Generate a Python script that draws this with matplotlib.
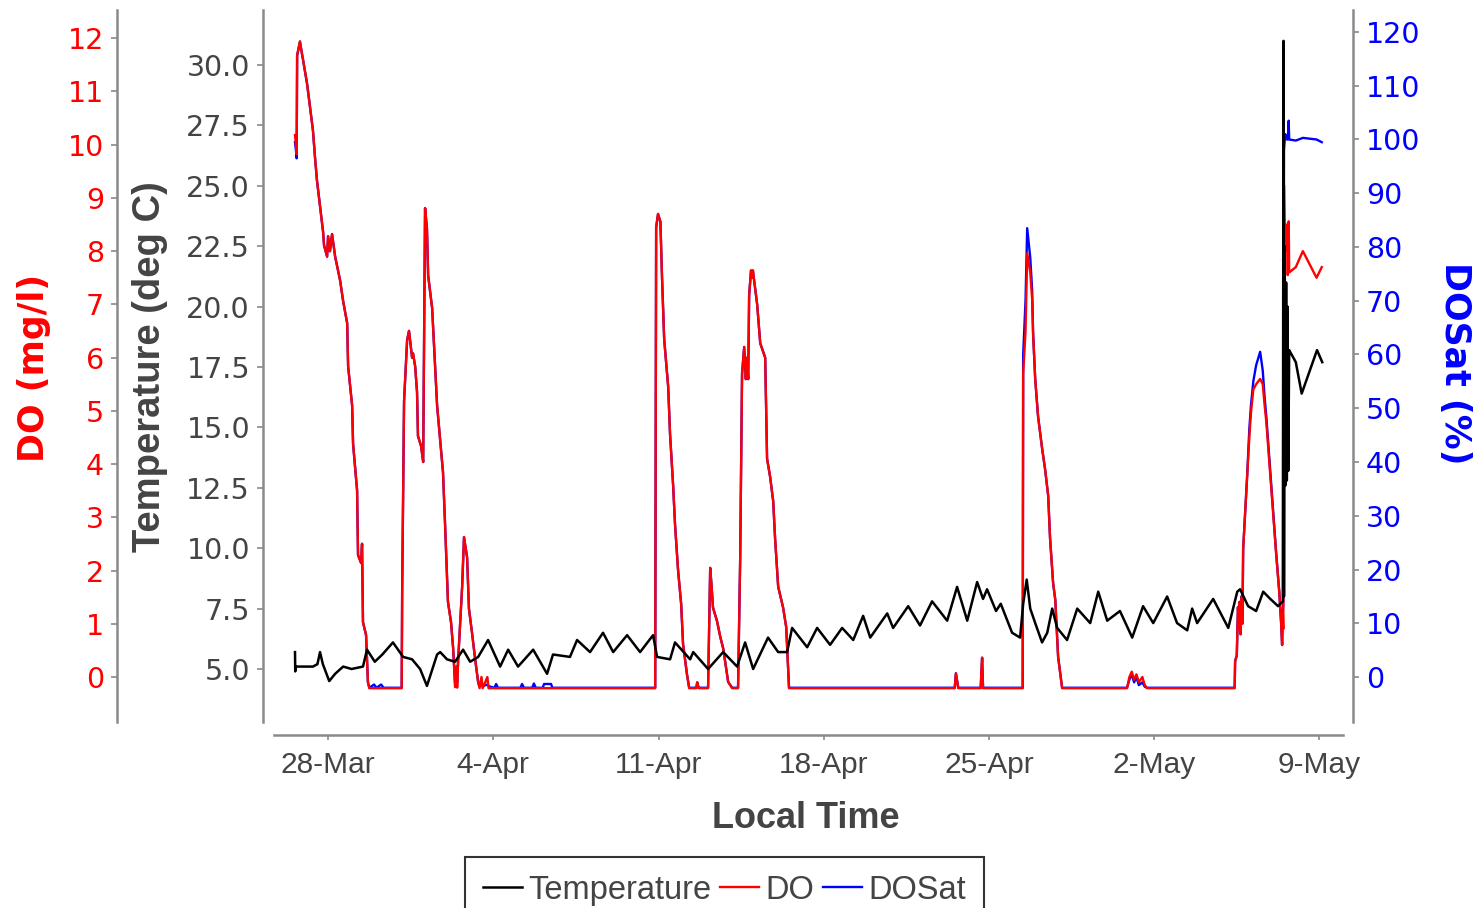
import matplotlib
matplotlib.use('Agg')
import matplotlib.pyplot as plt
from matplotlib.font_manager import FontProperties
from matplotlib.ticker import FormatStrFormatter
from datetime import datetime, timedelta

# days counted from 28-Mar 00:00
start = datetime(2013, 3, 28)

temp_day = [-1.40, -1.39, -1.37, -0.64, -0.45, -0.34, -0.22, 0.05, 0.30, 0.64, 1.00, 1.48, 1.65, 1.98,
            2.30, 2.75, 3.18, 3.56, 3.90, 4.19, 4.62, 4.75, 5.04, 5.38, 5.72, 6.02, 6.36, 6.78, 7.29,
            7.63, 8.05, 8.69, 9.28, 9.53, 10.25, 10.55, 11.10, 11.65, 12.08, 12.67, 13.22, 13.77, 13.94,
            14.49, 14.70, 15.34, 15.47, 16.10, 16.74, 17.33, 17.67, 18.01, 18.64, 19.07, 19.45, 19.66,
            20.30, 20.72, 21.27, 21.78, 22.25, 22.67, 22.97, 23.69, 23.94, 24.58, 25.08, 25.59, 26.23,
            26.65, 27.08, 27.50, 27.75, 27.92, 28.30, 28.50, 28.98, 29.32, 29.45, 29.60, 29.75, 29.96,
            30.25, 30.47, 30.68, 30.89, 31.31, 31.74, 32.29, 32.63, 33.01, 33.55, 34.07, 34.53, 34.96,
            35.55, 35.97, 36.40, 36.61, 36.82, 37.50, 38.14, 38.52, 38.64, 38.98, 39.32, 39.62, 39.92,
            40.25, 40.45, 40.48, 40.50, 40.53, 40.56, 40.59, 40.62, 40.65, 40.68, 40.72, 41.00, 41.25,
            41.90, 42.12]
temp_val = [5.7, 4.9, 5.1, 5.1, 5.2, 5.7, 5.2, 4.5, 4.8, 5.1, 5.0, 5.1, 5.8, 5.3,
            5.6, 6.1, 5.5, 5.4, 5.0, 4.3, 5.6, 5.7, 5.4, 5.3, 5.8, 5.3, 5.5, 6.2, 5.1,
            5.8, 5.1, 5.8, 4.8, 5.6, 5.5, 6.2, 5.7, 6.5, 5.7, 6.4, 5.7, 6.4, 5.5,
            5.4, 6.1, 5.4, 5.7, 5.0, 5.7, 5.1, 6.1, 5.0, 6.3, 5.7, 5.7, 6.7,
            5.9, 6.7, 6.0, 6.7, 6.2, 7.2, 6.3, 7.3, 6.7, 7.6, 6.8, 7.8, 7.0,
            8.4, 7.0, 8.6, 7.9, 8.3, 7.4, 7.7, 6.5, 6.3, 7.7, 8.7, 7.5, 6.9,
            6.1, 6.5, 7.5, 6.7, 6.2, 7.5, 6.9, 8.2, 7.0, 7.4, 6.3, 7.6, 6.9,
            8.0, 6.9, 6.6, 7.5, 6.9, 7.9, 6.7, 8.2, 8.3, 7.6, 7.4, 8.2, 7.9,
            7.6, 7.8, 31.0, 8.0, 22.5, 12.6, 21.0, 12.8, 20.0, 13.2, 18.2, 17.7, 16.4,
            18.2, 17.7]

# DO and DOSat are logged at the same times
do_day = [-1.40, -1.36, -1.33, -1.31, -1.19, -1.14, -1.06, -0.89, -0.76, -0.64, -0.55, -0.47, -0.34,
          -0.21, -0.17, -0.04, 0.00, 0.08, 0.17, 0.30, 0.51, 0.64, 0.81, 0.85, 1.02, 1.06, 1.23, 1.27,
          1.40, 1.44, 1.48, 1.61, 1.69, 1.75, 1.95, 2.05, 2.25, 2.35,
          3.12, 3.14, 3.22, 3.35, 3.43, 3.56, 3.60, 3.69, 3.77, 3.81, 3.94, 4.03, 4.11, 4.19, 4.24,
          4.41, 4.49, 4.62, 4.75, 4.87, 4.96, 5.08, 5.21, 5.30, 5.38, 5.44, 5.47, 5.51, 5.68, 5.76,
          5.89, 5.97, 6.10, 6.23, 6.36, 6.42, 6.50, 6.55, 6.75, 6.80,
          7.05, 7.12, 7.20, 8.15, 8.22, 8.30, 8.65, 8.72, 8.80, 9.10, 9.15, 9.45, 9.50,
          13.86, 13.90, 13.98, 14.08, 14.15, 14.24, 14.41, 14.49, 14.62, 14.70, 14.83, 14.96, 15.04,
          15.21, 15.30, 15.60, 15.64, 15.70, 16.10, 16.19, 16.25, 16.31, 16.48, 16.61, 16.74, 16.82,
          16.95, 17.12, 17.37, 17.46, 17.54, 17.63, 17.70, 17.75, 17.80, 17.84, 17.92, 17.96, 18.00,
          18.18, 18.31, 18.52, 18.60, 18.73, 18.86, 18.94, 19.07, 19.28, 19.41, 19.53,
          26.55, 26.60, 26.66, 26.70, 27.65, 27.68, 27.71, 27.75, 29.43, 29.45, 29.55, 29.62, 29.75,
          29.83, 29.87, 29.96, 30.08, 30.25, 30.38, 30.51, 30.59, 30.72, 30.81, 30.93, 31.10,
          33.85, 33.95, 34.05, 34.15, 34.25, 34.35, 34.50, 34.60, 34.70,
          38.41, 38.43, 38.50, 38.55, 38.60, 38.62, 38.66, 38.70, 38.74, 38.77, 38.94, 39.03, 39.10,
          39.20, 39.32, 39.49, 39.60, 39.68, 39.75, 40.17, 40.30, 40.38, 40.42, 40.45, 40.47, 40.50,
          40.55, 40.62, 40.66, 40.70, 40.72, 41.00, 41.30, 41.88, 42.10]
do_val = [10.18, 10.0, 9.82, 11.68, 11.94, 11.8, 11.6, 11.15, 10.7, 10.27, 9.75, 9.33, 8.85,
          8.36, 8.11, 7.9, 8.28, 8.0, 8.32, 7.9, 7.45, 7.06, 6.65, 5.84, 5.1, 4.38, 3.51, 2.29,
          2.14, 2.5, 1.03, 0.79, -0.1, -0.21, -0.21, -0.21, -0.21, -0.21,
          -0.21, 1.62, 5.18, 6.33, 6.5, 6.0, 6.08, 5.84, 5.35, 4.53, 4.34, 4.04, 8.81, 8.43, 7.55,
          6.93, 6.23, 5.1, 4.45, 3.85, 2.84, 1.41, 1.03, 0.54, -0.19, 0.2, -0.2, 0.3, 1.69, 2.63,
          2.25, 1.28, 0.83, 0.34, -0.1, -0.21, 0.0, -0.21, 0.0, -0.21,
          -0.21, -0.21, -0.21, -0.21, -0.21, -0.21, -0.21, -0.21, -0.21, -0.21, -0.21, -0.21, -0.21,
          -0.21, 8.45, 8.7, 8.56, 7.5, 6.35, 5.45, 4.56, 3.6, 2.87, 2.0, 1.37, 0.62,
          0.04, -0.21, -0.21, -0.1, -0.21, -0.21, 2.05, 1.7, 1.3, 1.05, 0.77, 0.54, 0.3,
          -0.09, -0.21, -0.21, 2.2, 5.7, 6.2, 5.6, 6.0, 5.6, 7.17, 7.64, 7.5, 7.64,
          7.0, 6.27, 6.0, 4.1, 3.76, 3.3, 2.6, 1.7, 1.3, 0.94, -0.21,
          -0.21, 0.07, -0.1, -0.21, -0.21, 0.1, 0.36, -0.21, -0.21, 5.7, 6.5, 7.96, 7.6,
          7.1, 6.46, 5.6, 4.9, 4.3, 3.9, 3.4, 2.6, 1.76, 1.45, 0.38, -0.21,
          -0.21, 0.0, 0.1, -0.05, 0.05, -0.1, 0.0, -0.15, -0.21,
          -0.21, 0.3, 0.4, 1.3, 0.9, 1.4, 0.8, 1.5, 1.0, 2.4, 3.75, 4.5, 4.96,
          5.4, 5.5, 5.6, 5.5, 5.1, 4.8, 2.3, 1.6, 1.0, 0.6, 1.2, 0.9, 9.24,
          8.0, 8.5, 7.55, 8.56, 7.6, 7.7, 8.0, 7.5, 7.7]
sat_val = [99.5, 98.0, 96.5, 115.6, 118.2, 116.8, 114.8, 110.4, 105.9, 101.7, 96.5, 92.4, 87.6,
           82.8, 80.3, 78.2, 82.0, 79.2, 82.4, 78.2, 73.8, 69.9, 65.8, 57.8, 50.5, 43.4, 34.7, 22.7,
           21.2, 24.8, 10.2, 7.8, -1.0, -2.0, -1.4, -2.0, -1.4, -2.0,
           -2.0, 16.0, 51.3, 62.7, 64.4, 59.4, 60.2, 57.8, 53.0, 44.8, 43.0, 40.0, 87.2, 83.5, 74.7,
           68.6, 61.7, 50.5, 44.1, 38.1, 28.1, 14.0, 10.2, 5.3, -1.0, 1.0, -1.0, 3.0, 16.7, 26.0,
           22.3, 12.7, 8.2, 3.4, -1.0, -1.7, -1.4, -1.7, -1.4, -1.7,
           -2.0, -1.3, -2.0, -2.0, -1.3, -2.0, -2.0, -1.2, -2.0, -2.0, -1.3, -1.3, -2.0,
           -2.0, 83.6, 86.1, 84.7, 74.3, 62.9, 54.0, 45.1, 35.6, 28.4, 19.8, 13.6, 6.1,
           0.4, -2.0, -2.0, -1.0, -2.0, -2.0, 20.3, 16.8, 12.9, 10.4, 7.6, 5.3, 3.0,
           -0.9, -2.0, -2.0, 21.8, 56.4, 61.4, 55.4, 59.4, 55.4, 71.0, 75.6, 74.3, 75.6,
           69.3, 62.1, 59.4, 40.6, 37.2, 32.7, 25.7, 16.8, 12.9, 9.3, -2.0,
           -2.0, 0.7, -1.0, -2.0, -2.0, 1.0, 3.6, -2.0, -2.0, 60.0, 70.0, 83.5, 78.0,
           72.0, 64.0, 55.4, 48.5, 42.6, 38.6, 33.7, 25.7, 17.4, 14.4, 3.8, -2.0,
           -2.0, -0.5, 0.5, -1.0, 0.0, -1.5, -1.0, -1.8, -2.0,
           -2.0, 3.0, 4.0, 13.0, 9.0, 14.0, 8.0, 15.0, 10.0, 23.8, 37.5, 46.0, 50.5,
           55.0, 58.0, 60.5, 57.0, 52.0, 48.5, 23.0, 15.8, 10.0, 6.0, 12.0, 14.0, 98.0,
           101.0, 100.0, 100.0, 103.5, 100.0, 99.8, 100.3, 100.0, 99.5]

tick_day = [0, 7, 14, 21, 28, 35, 42]
tick_labels = ['28-Mar', '4-Apr', '11-Apr', '18-Apr', '25-Apr', '2-May', '9-May']


def to_dates(days):
    return [start + timedelta(days=d) for d in days]


def px(n):
    # pixels to points at dpi 100
    return n * 0.72


narrow = 'Liberation Sans'
gray = '#444444'
spine_gray = '#8a8a8a'

fig = plt.figure(figsize=(14.8, 9.08), dpi=100)
ax_s = fig.add_axes([274 / 1480, 1 - 722 / 908, 1069 / 1480, 712 / 908])
ax_do = ax_s.twinx()
ax_t = ax_s.twinx()

l_s, = ax_s.plot(to_dates(do_day), sat_val, color='#0000ff', lw=1.7)
l_do, = ax_do.plot(to_dates(do_day), do_val, color='#ff0000', lw=1.7)
l_t, = ax_t.plot(to_dates(temp_day), temp_val, color='black', lw=1.8)

ax_s.set_xlim(start + timedelta(days=-2.29), start + timedelta(days=43.0))
ax_s.set_ylim(-8.37, 124.09)
ax_do.set_ylim(-0.845, 12.53)
ax_t.set_ylim(2.806, 32.277)

# DOSat on the right
ax_s.yaxis.tick_right()
ax_s.set_yticks(range(0, 121, 10))
for side in ['left', 'top']:
    ax_s.spines[side].set_visible(False)
ax_s.spines['right'].set_position(('outward', px(10)))
ax_s.spines['bottom'].set_position(('outward', px(13)))
ax_s.tick_params(axis='y', colors=spine_gray, labelcolor='#0000ff', labelsize=20.5,
                 length=px(6), width=1.2, pad=px(7))
ax_s.set_xticks(to_dates(tick_day), tick_labels)
ax_s.tick_params(axis='x', colors=spine_gray, labelcolor=gray, length=px(5), width=1.2, pad=px(11))
for lab in ax_s.get_xticklabels():
    lab.set_fontproperties(FontProperties(family=narrow, size=21.5))

# DO on the far left, temperature just left of the plot
for ax, off in [(ax_do, 157), (ax_t, 11)]:
    ax.yaxis.tick_left()
    for side in ['right', 'top', 'bottom']:
        ax.spines[side].set_visible(False)
    ax.spines['left'].set_position(('outward', px(off)))
    ax.tick_params(axis='y', colors=spine_gray, labelsize=20.5, length=px(6), width=1.2, pad=px(7))

ax_do.set_yticks(range(0, 13))
ax_do.tick_params(axis='y', labelcolor='#ff0000')
ax_t.set_yticks([5 + 2.5 * i for i in range(11)])
ax_t.yaxis.set_major_formatter(FormatStrFormatter('%.1f'))
ax_t.tick_params(axis='y', labelcolor=gray)

for ax in [ax_s, ax_do, ax_t]:
    for sp in ax.spines.values():
        sp.set_color(spine_gray)
        sp.set_linewidth(1.8)

# axis titles
ax_s.text(-0.2245, 0.497, 'DO (mg/l)', transform=ax_s.transAxes, rotation=90, ha='center',
          va='center', color='#ff0000', fontsize=25, fontweight='bold')
ax_s.text(-0.116, 0.4986, 'Temperature (deg C)', transform=ax_s.transAxes, rotation=90,
          ha='center', va='center', color=gray,
          fontproperties=FontProperties(family=narrow, size=27.5, weight='bold'))
ax_s.text(1.1048, 0.5042, 'DOSat (%)', transform=ax_s.transAxes, rotation=270, ha='center',
          va='center', color='#0000ff', fontsize=25, fontweight='bold')
ax_s.text(0.4977, -0.136, 'Local Time', transform=ax_s.transAxes, ha='center', va='center',
          color=gray, fontproperties=FontProperties(family=narrow, size=26, weight='bold'))

leg = fig.legend([l_t, l_do, l_s], ['Temperature', 'DO', 'DOSat'], loc='upper center',
                 bbox_to_anchor=(0.4895, 0.0562), ncol=3, fancybox=False, edgecolor='black',
                 prop=FontProperties(family=narrow, size=23.5), handlelength=1.2,
                 handletextpad=0.2, columnspacing=0.25, borderpad=0.55, borderaxespad=0,
                 labelcolor=gray)
leg.get_frame().set_linewidth(1.5)

fig.savefig('out.png', dpi=100)
